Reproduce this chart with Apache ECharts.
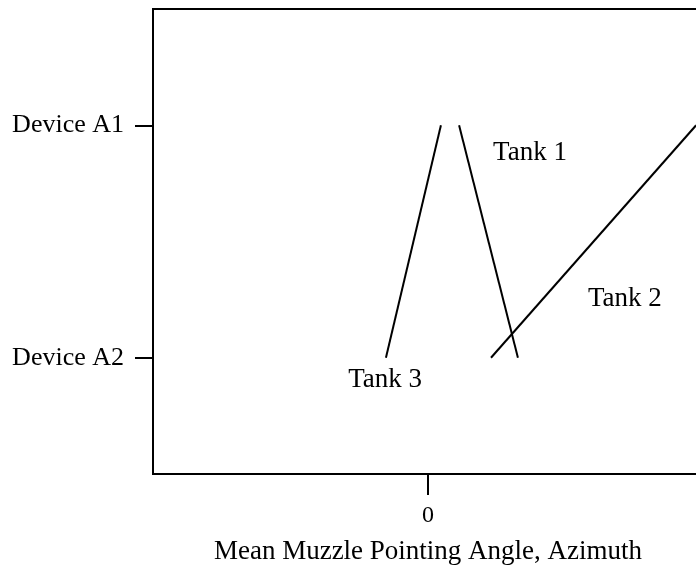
<!DOCTYPE html>
<html>
<head>
<meta charset="utf-8">
<script src="https://cdn.jsdelivr.net/npm/echarts@6/dist/echarts.min.js"></script>
<style>
  html, body { margin: 0; padding: 0; background: #fff; }
  #main { width: 696px; height: 568px; }
</style>
</head>
<body>
<div id="main"></div>
<script>
/* 数据 -- device levels on y, azimuth on x */
var yLevels = [1, 2];
var yLabels = ['Device A2', 'Device A1'];
var xTicks = [0];
var xTickLabels = ['0'];

var tankNames = ['Tank 1', 'Tank 2', 'Tank 3'];
var tank1 = [[0.113, 2], [0.327, 1]];
var tank2 = [[0.229, 1], [0.975, 2]];
var tank3 = [[-0.153, 1], [0.047, 2]];
// where the tank names sit
var tankLabelPos = [[0.371, 1.882], [0.716, 1.255], [-0.156, 0.903]];

var fontFamily = '"Liberation Serif", "DejaVu Serif", serif';
var dom = document.getElementById('main');
var myChart = echarts.init(dom);

function lineSeries(name, data) {
    return {
        name: name,
        type: 'line',
        data: data,
        symbol: 'none',
        silent: true,
        lineStyle: { color: '#000', width: 2 }
    };
}

var option = {
    animation: false,
    backgroundColor: '#fff',
    grid: {
        left: 153,
        top: 9,
        width: 550, // right edge falls just off the canvas, like the scan
        height: 465,
        outerBoundsMode: 'none',
        show: true,
        borderColor: '#000',
        borderWidth: 2
    },
    xAxis: {
        type: 'value',
        min: -1,
        max: 1,
        splitLine: { show: false },
        axisLine: { show: false, onZero: false },
        axisTick: {
            show: true,
            customValues: xTicks,
            length: 21,
            lineStyle: { color: '#000', width: 2 }
        },
        axisLabel: {
            customValues: xTicks,
            formatter: function (v) {
                return xTickLabels[xTicks.indexOf(v)];
            },
            margin: 30,
            color: '#000',
            fontSize: 24,
            fontFamily: fontFamily
        },
        name: 'Mean Muzzle Pointing Angle, Azimuth',
        nameLocation: 'middle',
        nameGap: 64,
        nameTextStyle: {
            color: '#000',
            fontSize: 27,
            fontFamily: fontFamily
        }
    },
    yAxis: {
        type: 'value',
        min: 0.5,
        max: 2.5,
        splitLine: { show: false },
        axisLine: { show: false, onZero: false },
        axisTick: {
            show: true,
            customValues: yLevels,
            length: 18,
            lineStyle: { color: '#000', width: 2 }
        },
        axisLabel: {
            customValues: yLevels,
            formatter: function (v) {
                return yLabels[yLevels.indexOf(v)];
            },
            margin: 29,
            color: '#000',
            fontSize: 26,
            fontFamily: fontFamily
        }
    },
    series: [
        lineSeries(tankNames[0], tank1),
        lineSeries(tankNames[1], tank2),
        lineSeries(tankNames[2], tank3),
        {
            // 只用来放 Tank 文字，点本身不可见
            name: 'labels',
            type: 'scatter',
            symbolSize: 0,
            itemStyle: { color: 'rgba(0,0,0,0)', opacity: 1 },
            silent: true,
            data: tankLabelPos.map(function (p, i) {
                return { name: tankNames[i], value: p };
            }),
            label: {
                show: true,
                position: 'inside',
                formatter: '{b}',
                color: '#000',
                textBorderWidth: 0,
                fontSize: 27,
                fontFamily: fontFamily
            }
        }
    ]
};

myChart.setOption(option);
</script>
</body>
</html>
